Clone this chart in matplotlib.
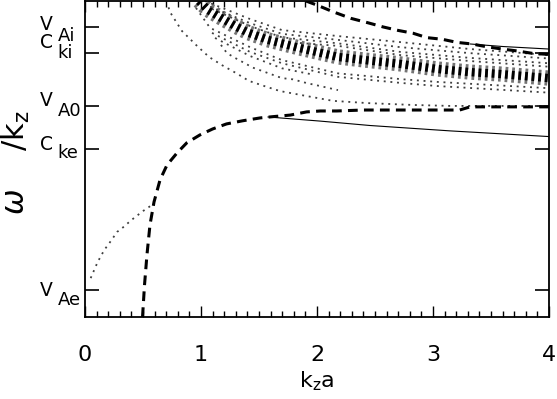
import matplotlib
matplotlib.use("Agg")
import matplotlib.pyplot as plt
from matplotlib.ticker import MultipleLocator

plt.rcParams["lines.scale_dashes"] = False

# characteristic speeds marked on the y axis (plot units, axis runs 0..1)
speed_main = ["V", "C", "V", "C", "V"]
speed_sub = ["Ai", "ki", "A0", "ke", "Ae"]
speed_val = [0.918, 0.835, 0.668, 0.532, 0.085]

# thick dashed branches
low_dash_x = [0.496, 0.513, 0.534, 0.560, 0.595, 0.647, 0.707, 0.793, 0.877, 0.99, 1.10, 1.22,
              1.36, 1.51, 1.62, 1.77, 1.91, 2.03, 2.17, 2.40, 2.74, 3.23, 3.32, 3.75, 4.0]
low_dash_y = [0.0, 0.101, 0.196, 0.291, 0.364, 0.434, 0.481, 0.519, 0.551, 0.576, 0.595, 0.611,
              0.621, 0.630, 0.634, 0.639, 0.649, 0.652, 0.652, 0.655, 0.655, 0.655, 0.665, 0.665, 0.665]
up_dash_x = [1.905, 2.0, 2.138, 2.293, 2.440, 2.569, 2.698, 2.828, 2.948, 3.078, 3.207, 3.336,
             3.466, 3.595, 3.724, 3.862, 4.0]
up_dash_y = [1.0, 0.987, 0.966, 0.945, 0.931, 0.918, 0.907, 0.898, 0.884, 0.879, 0.869, 0.864,
             0.855, 0.848, 0.842, 0.834, 0.831]

# thin solid branches
low_solid_x = [1.578, 2.026, 2.457, 3.147, 4.0]
low_solid_y = [0.633, 0.620, 0.606, 0.589, 0.571]
up_solid_x = [3.32, 3.60, 4.0]
up_solid_y = [0.864, 0.856, 0.848]

# surface-like dotted branch at small k_z a
surf_x = [0.049, 0.109, 0.166, 0.224, 0.276, 0.336, 0.394, 0.446, 0.503, 0.575]
surf_y = [0.123, 0.174, 0.212, 0.241, 0.269, 0.286, 0.305, 0.320, 0.336, 0.354]

# dense cluster of body modes (centre of the dark band)
band_x = [0.983, 1.060, 1.181, 1.293, 1.405, 1.578, 1.853, 2.181, 2.414, 2.716, 3.034, 3.319, 3.578, 4.0]
band_y = [1.0, 0.972, 0.945, 0.921, 0.900, 0.877, 0.851, 0.823, 0.813, 0.801, 0.785, 0.775, 0.769, 0.756]

# individual dotted body modes
body_modes = {
    "u1": ([1.034, 1.422, 1.698, 2.181, 2.716, 3.319, 4.0],
           [1.0, 0.943, 0.908, 0.889, 0.870, 0.848, 0.829]),
    "u2": ([1.078, 1.422, 1.698, 2.181, 2.716, 3.319, 4.0],
           [0.982, 0.930, 0.896, 0.877, 0.854, 0.835, 0.818]),
    "u3": ([1.095, 1.422, 1.698, 2.181, 2.716, 3.319, 4.0],
           [0.975, 0.921, 0.885, 0.866, 0.839, 0.820, 0.803]),
    "u4": ([1.853, 2.181, 2.716, 3.319, 4.0],
           [0.867, 0.858, 0.829, 0.810, 0.792]),
    "l1": ([0.957, 1.078, 1.422, 1.698, 2.181, 2.716, 3.034, 4.0],
           [0.978, 0.915, 0.854, 0.813, 0.771, 0.753, 0.744, 0.724]),
    "l2": ([1.095, 1.422, 1.698, 2.181, 2.716, 3.034, 4.0],
           [0.899, 0.839, 0.803, 0.760, 0.741, 0.731, 0.710]),
    "l3": ([1.121, 1.422, 1.698, 1.940],
           [0.883, 0.826, 0.787, 0.769]),
    "d2": ([1.172, 1.224, 1.293, 1.448, 1.569, 1.698, 1.793, 1.914, 2.026, 2.181],
           [0.861, 0.835, 0.820, 0.789, 0.773, 0.756, 0.752, 0.740, 0.731, 0.718]),
    "d1": ([0.72, 0.733, 0.836, 0.957, 1.069, 1.181, 1.302, 1.414, 1.569, 1.681, 1.914,
            2.138, 2.431, 2.828, 3.147, 4.0],
           [0.98, 0.965, 0.905, 0.861, 0.823, 0.797, 0.772, 0.747, 0.728, 0.715, 0.699,
            0.684, 0.677, 0.671, 0.668, 0.668]),
}

fig = plt.figure(figsize=(5.57, 3.99), dpi=100)
ax = fig.add_axes([0.1526, 0.2055, 0.833, 0.792])

# dark band: wide grey dashes with a black core
ax.plot(band_x, band_y, color="0.45", lw=11, dashes=(2.0, 2.8))
ax.plot(band_x, band_y, color="black", lw=6, dashes=(2.0, 2.8))

dots = dict(color="0.25", lw=1.3, dashes=(1.4, 3.4))
for mx, my in body_modes.values():
    ax.plot(mx, my, **dots)
ax.plot(surf_x, surf_y, **dots)

ax.plot(low_solid_x, low_solid_y, color="black", lw=0.8)
ax.plot(up_solid_x, up_solid_y, color="black", lw=0.8)

dash = dict(color="black", lw=2.2, dashes=(7, 4.5))
ax.plot(low_dash_x, low_dash_y, **dash)
ax.plot(up_dash_x, up_dash_y, **dash)

ax.set_xlim(0, 4)
ax.set_ylim(0, 1)

ax.set_xticks([0, 1, 2, 3, 4])
ax.xaxis.set_minor_locator(MultipleLocator(0.1))
ax.tick_params(axis="x", which="both", direction="in", top=True, labelsize=16, pad=20)
ax.tick_params(axis="x", which="major", length=8, width=1)
ax.tick_params(axis="x", which="minor", length=4, width=1)

ax.set_yticks(speed_val)
ax.tick_params(axis="y", which="major", direction="in", left=True, right=True,
               length=10, width=1.2, labelleft=False)
for tick, sub in zip(ax.yaxis.get_major_ticks(), speed_sub):
    c = "black" if sub in ("Ai", "A0") else "0.45"
    tick.tick1line.set_color(c)
    tick.tick2line.set_color(c)

# y tick labels drawn as letter + full-size subscript
main_drop = [3, -5, 0, 1, 6]
sub_drop = [14, 5, 10, 9, 15]
for name, sub, v, d1, d2 in zip(speed_main, speed_sub, speed_val, main_drop, sub_drop):
    ax.annotate(name, xy=(0, v), xycoords=("axes fraction", "data"),
                xytext=(-32.4, -d1 / 1.389), textcoords="offset points",
                ha="left", va="baseline", fontsize=13.5)
    ax.annotate(sub, xy=(0, v), xycoords=("axes fraction", "data"),
                xytext=(-19.6, -d2 / 1.389), textcoords="offset points",
                ha="left", va="baseline", fontsize=13)

for s in ax.spines.values():
    s.set_linewidth(1.3)

ax.set_xlabel(r"k$_\mathregular{z}$a", fontsize=16, labelpad=3)
ax.set_ylabel(r"$\omega$    /k$_\mathregular{z}$", fontsize=22)
ax.yaxis.set_label_coords(-0.115, 0.49)

fig.savefig("out.png", dpi=100)
